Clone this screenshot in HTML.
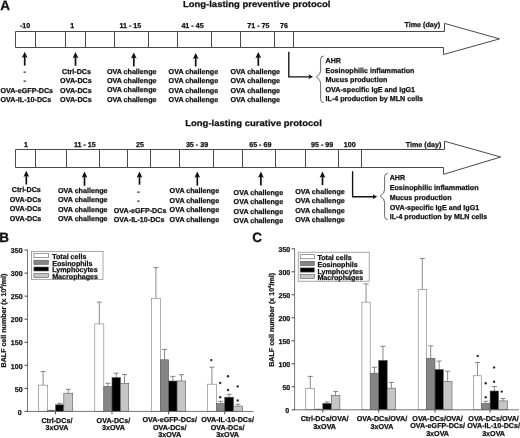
<!DOCTYPE html>
<html lang="en">
<head>
<meta charset="utf-8">
<title>Long-lasting preventive and curative protocols</title>
<style>
html,body{margin:0;padding:0;background:#fff;}
body{width:520px;height:438px;overflow:hidden;}
svg{display:block;will-change:transform;text-rendering:geometricPrecision;}
svg text{font-family:"Liberation Sans",Arial,Helvetica,sans-serif;font-weight:bold;fill:#111;stroke:#111;stroke-width:0.25px;stroke-linejoin:round;}
</style>
</head>
<body>
<svg width="520" height="438" viewBox="0 0 520 438">
<rect x="0" y="0" width="520" height="438" fill="#fff"/>
<text x="0.30" y="10.30" font-size="13.5" text-anchor="start">A</text>
<text x="182.90" y="7.10" font-size="8.7" text-anchor="start" textLength="147.6" lengthAdjust="spacingAndGlyphs">Long-lasting preventive protocol</text>
<polygon points="15.50,31.50 444.50,31.50 444.50,23.40 499.60,38.85 443.50,54.50 443.50,47.50 15.50,47.50" fill="#fff" stroke="#4a4a4a" stroke-width="1" stroke-linejoin="miter"/>
<line x1="35.50" y1="31.50" x2="35.50" y2="47.50" stroke="#4a4a4a" stroke-width="1"/>
<line x1="65.50" y1="31.50" x2="65.50" y2="47.50" stroke="#4a4a4a" stroke-width="1"/>
<line x1="85.50" y1="31.50" x2="85.50" y2="47.50" stroke="#4a4a4a" stroke-width="1"/>
<line x1="114.50" y1="31.50" x2="114.50" y2="47.50" stroke="#4a4a4a" stroke-width="1"/>
<line x1="148.50" y1="31.50" x2="148.50" y2="47.50" stroke="#4a4a4a" stroke-width="1"/>
<line x1="177.50" y1="31.50" x2="177.50" y2="47.50" stroke="#4a4a4a" stroke-width="1"/>
<line x1="211.50" y1="31.50" x2="211.50" y2="47.50" stroke="#4a4a4a" stroke-width="1"/>
<line x1="240.50" y1="31.50" x2="240.50" y2="47.50" stroke="#4a4a4a" stroke-width="1"/>
<line x1="274.50" y1="31.50" x2="274.50" y2="47.50" stroke="#4a4a4a" stroke-width="1"/>
<line x1="293.50" y1="31.50" x2="293.50" y2="47.50" stroke="#4a4a4a" stroke-width="1"/>
<text x="25.10" y="28.05" font-size="7.15" text-anchor="middle">-10</text>
<text x="72.20" y="28.05" font-size="7.15" text-anchor="middle">1</text>
<text x="130.30" y="28.05" font-size="7.15" text-anchor="middle">11 - 15</text>
<text x="192.50" y="28.05" font-size="7.15" text-anchor="middle">41 - 45</text>
<text x="258.40" y="28.05" font-size="7.15" text-anchor="middle">71 - 75</text>
<text x="284.10" y="28.05" font-size="7.15" text-anchor="middle">76</text>
<text x="404.50" y="27.30" font-size="7.15" text-anchor="start">Time (day)</text>
<line x1="24.70" y1="54.80" x2="24.70" y2="65.60" stroke="#111" stroke-width="1.7"/>
<path d="M24.70 51.80 L27.60 58.00 L24.70 56.60 L21.80 58.00 Z" fill="#111"/>
<line x1="75.50" y1="55.10" x2="75.50" y2="65.80" stroke="#111" stroke-width="1.7"/>
<path d="M75.50 52.10 L78.40 58.30 L75.50 56.90 L72.60 58.30 Z" fill="#111"/>
<line x1="133.80" y1="55.40" x2="133.80" y2="66.40" stroke="#111" stroke-width="1.7"/>
<path d="M133.80 52.40 L136.70 58.60 L133.80 57.20 L130.90 58.60 Z" fill="#111"/>
<line x1="195.70" y1="55.90" x2="195.70" y2="66.50" stroke="#111" stroke-width="1.7"/>
<path d="M195.70 52.90 L198.60 59.10 L195.70 57.70 L192.80 59.10 Z" fill="#111"/>
<line x1="258.30" y1="55.10" x2="258.30" y2="65.80" stroke="#111" stroke-width="1.7"/>
<path d="M258.30 52.10 L261.20 58.30 L258.30 56.90 L255.40 58.30 Z" fill="#111"/>
<text x="26.75" y="92.60" font-size="7.15" text-anchor="middle">OVA-eGFP-DCs</text>
<text x="25.85" y="101.80" font-size="7.15" text-anchor="middle">OVA-IL-10-DCs</text>
<text x="24.70" y="73.50" font-size="7.15" text-anchor="middle">-</text>
<text x="24.70" y="82.80" font-size="7.15" text-anchor="middle">-</text>
<text x="76.50" y="73.80" font-size="7.15" text-anchor="middle">Ctrl-DCs</text>
<text x="75.90" y="83.25" font-size="7.15" text-anchor="middle">OVA-DCs</text>
<text x="75.90" y="92.60" font-size="7.15" text-anchor="middle">OVA-DCs</text>
<text x="75.90" y="101.80" font-size="7.15" text-anchor="middle">OVA-DCs</text>
<text x="131.70" y="73.65" font-size="7.15" text-anchor="middle">OVA challenge</text>
<text x="131.70" y="83.00" font-size="7.15" text-anchor="middle">OVA challenge</text>
<text x="131.70" y="92.30" font-size="7.15" text-anchor="middle">OVA challenge</text>
<text x="131.70" y="101.80" font-size="7.15" text-anchor="middle">OVA challenge</text>
<text x="193.40" y="73.65" font-size="7.15" text-anchor="middle">OVA challenge</text>
<text x="193.40" y="83.00" font-size="7.15" text-anchor="middle">OVA challenge</text>
<text x="193.40" y="92.60" font-size="7.15" text-anchor="middle">OVA challenge</text>
<text x="193.40" y="101.80" font-size="7.15" text-anchor="middle">OVA challenge</text>
<text x="255.30" y="74.10" font-size="7.15" text-anchor="middle">OVA challenge</text>
<text x="255.30" y="83.40" font-size="7.15" text-anchor="middle">OVA challenge</text>
<text x="255.30" y="92.90" font-size="7.15" text-anchor="middle">OVA challenge</text>
<text x="255.30" y="102.20" font-size="7.15" text-anchor="middle">OVA challenge</text>
<path d="M288.80 51.80 V76.80 H310.50" fill="none" stroke="#111" stroke-width="1.35"/>
<path d="M313.00 76.80 L308.40 74.30 L309.50 76.80 L308.40 79.30 Z" fill="#111"/>
<path d="M323.80 56.00 Q320.65 56.00 320.65 59.00 V70.80 Q320.65 74.40 316.30 77.00 Q320.65 79.60 320.65 83.20 V99.60 Q320.65 102.60 323.80 102.60" fill="none" stroke="#4a4a4a" stroke-width="0.85"/>
<text x="325.50" y="63.20" font-size="7.15" text-anchor="start">AHR</text>
<text x="325.50" y="72.70" font-size="7.15" text-anchor="start">Eosinophilic inflammation</text>
<text x="325.50" y="82.40" font-size="7.15" text-anchor="start">Mucus production</text>
<text x="325.50" y="91.90" font-size="7.15" text-anchor="start">OVA-specific IgE and IgG1</text>
<text x="325.50" y="101.40" font-size="7.15" text-anchor="start">IL-4 production by MLN cells</text>
<text x="185.20" y="126.40" font-size="8.7" text-anchor="start" textLength="136.6" lengthAdjust="spacingAndGlyphs">Long-lasting curative protocol</text>
<polygon points="15.50,149.50 444.50,149.50 444.50,141.25 500.75,157.00 443.50,174.25 443.50,167.50 15.50,167.50" fill="#fff" stroke="#4a4a4a" stroke-width="1" stroke-linejoin="miter"/>
<line x1="35.50" y1="149.50" x2="35.50" y2="167.50" stroke="#4a4a4a" stroke-width="1"/>
<line x1="66.50" y1="149.50" x2="66.50" y2="167.50" stroke="#4a4a4a" stroke-width="1"/>
<line x1="99.50" y1="149.50" x2="99.50" y2="167.50" stroke="#4a4a4a" stroke-width="1"/>
<line x1="127.50" y1="149.50" x2="127.50" y2="167.50" stroke="#4a4a4a" stroke-width="1"/>
<line x1="150.50" y1="149.50" x2="150.50" y2="167.50" stroke="#4a4a4a" stroke-width="1"/>
<line x1="179.50" y1="149.50" x2="179.50" y2="167.50" stroke="#4a4a4a" stroke-width="1"/>
<line x1="213.50" y1="149.50" x2="213.50" y2="167.50" stroke="#4a4a4a" stroke-width="1"/>
<line x1="242.50" y1="149.50" x2="242.50" y2="167.50" stroke="#4a4a4a" stroke-width="1"/>
<line x1="275.50" y1="149.50" x2="275.50" y2="167.50" stroke="#4a4a4a" stroke-width="1"/>
<line x1="305.50" y1="149.50" x2="305.50" y2="167.50" stroke="#4a4a4a" stroke-width="1"/>
<line x1="338.50" y1="149.50" x2="338.50" y2="167.50" stroke="#4a4a4a" stroke-width="1"/>
<line x1="361.50" y1="149.50" x2="361.50" y2="167.50" stroke="#4a4a4a" stroke-width="1"/>
<text x="25.90" y="146.70" font-size="7.15" text-anchor="middle">1</text>
<text x="84.80" y="146.70" font-size="7.15" text-anchor="middle">11 - 15</text>
<text x="140.00" y="146.70" font-size="7.15" text-anchor="middle">25</text>
<text x="197.00" y="146.70" font-size="7.15" text-anchor="middle">35 - 39</text>
<text x="260.30" y="146.70" font-size="7.15" text-anchor="middle">65 - 69</text>
<text x="322.10" y="146.70" font-size="7.15" text-anchor="middle">95 - 99</text>
<text x="349.75" y="146.70" font-size="7.15" text-anchor="middle">100</text>
<text x="405.75" y="146.70" font-size="7.15" text-anchor="start">Time (day)</text>
<line x1="26.30" y1="173.70" x2="26.30" y2="184.50" stroke="#111" stroke-width="1.7"/>
<path d="M26.30 170.70 L29.20 176.90 L26.30 175.50 L23.40 176.90 Z" fill="#111"/>
<line x1="84.50" y1="174.60" x2="84.50" y2="185.80" stroke="#111" stroke-width="1.7"/>
<path d="M84.50 171.60 L87.40 177.80 L84.50 176.40 L81.60 177.80 Z" fill="#111"/>
<line x1="139.50" y1="174.60" x2="139.50" y2="184.70" stroke="#111" stroke-width="1.7"/>
<path d="M139.50 171.60 L142.40 177.80 L139.50 176.40 L136.60 177.80 Z" fill="#111"/>
<line x1="197.30" y1="174.60" x2="197.30" y2="185.60" stroke="#111" stroke-width="1.7"/>
<path d="M197.30 171.60 L200.20 177.80 L197.30 176.40 L194.40 177.80 Z" fill="#111"/>
<line x1="260.90" y1="174.60" x2="260.90" y2="185.60" stroke="#111" stroke-width="1.7"/>
<path d="M260.90 171.60 L263.80 177.80 L260.90 176.40 L258.00 177.80 Z" fill="#111"/>
<line x1="322.50" y1="174.60" x2="322.50" y2="185.10" stroke="#111" stroke-width="1.7"/>
<path d="M322.50 171.60 L325.40 177.80 L322.50 176.40 L319.60 177.80 Z" fill="#111"/>
<text x="26.30" y="192.40" font-size="7.15" text-anchor="middle">Ctrl-DCs</text>
<text x="25.55" y="201.90" font-size="7.15" text-anchor="middle">OVA-DCs</text>
<text x="25.55" y="211.20" font-size="7.15" text-anchor="middle">OVA-DCs</text>
<text x="25.55" y="220.80" font-size="7.15" text-anchor="middle">OVA-DCs</text>
<text x="82.80" y="192.70" font-size="7.15" text-anchor="middle">OVA challenge</text>
<text x="82.80" y="202.00" font-size="7.15" text-anchor="middle">OVA challenge</text>
<text x="82.80" y="211.50" font-size="7.15" text-anchor="middle">OVA challenge</text>
<text x="82.80" y="220.80" font-size="7.15" text-anchor="middle">OVA challenge</text>
<text x="140.05" y="212.60" font-size="7.15" text-anchor="middle">OVA-eGFP-DCs</text>
<text x="139.15" y="221.80" font-size="7.15" text-anchor="middle">OVA-IL-10-DCs</text>
<text x="138.50" y="193.90" font-size="7.15" text-anchor="middle">-</text>
<text x="138.50" y="202.80" font-size="7.15" text-anchor="middle">-</text>
<text x="194.40" y="193.10" font-size="7.15" text-anchor="middle">OVA challenge</text>
<text x="194.40" y="202.60" font-size="7.15" text-anchor="middle">OVA challenge</text>
<text x="194.40" y="211.90" font-size="7.15" text-anchor="middle">OVA challenge</text>
<text x="194.40" y="221.50" font-size="7.15" text-anchor="middle">OVA challenge</text>
<text x="258.40" y="195.00" font-size="7.15" text-anchor="middle">OVA challenge</text>
<text x="258.40" y="203.90" font-size="7.15" text-anchor="middle">OVA challenge</text>
<text x="258.40" y="213.50" font-size="7.15" text-anchor="middle">OVA challenge</text>
<text x="258.40" y="222.90" font-size="7.15" text-anchor="middle">OVA challenge</text>
<text x="320.00" y="193.80" font-size="7.15" text-anchor="middle">OVA challenge</text>
<text x="320.00" y="203.25" font-size="7.15" text-anchor="middle">OVA challenge</text>
<text x="320.00" y="212.60" font-size="7.15" text-anchor="middle">OVA challenge</text>
<text x="320.00" y="221.90" font-size="7.15" text-anchor="middle">OVA challenge</text>
<path d="M352.60 171.20 V196.70 H374.70" fill="none" stroke="#111" stroke-width="1.35"/>
<path d="M377.20 196.70 L372.60 194.20 L373.70 196.70 L372.60 199.20 Z" fill="#111"/>
<path d="M387.80 173.50 Q384.61 173.50 384.61 176.50 V189.80 Q384.61 193.40 380.20 196.00 Q384.61 198.60 384.61 202.20 V216.50 Q384.61 219.50 387.80 219.50" fill="none" stroke="#4a4a4a" stroke-width="0.85"/>
<text x="389.70" y="180.40" font-size="7.15" text-anchor="start">AHR</text>
<text x="389.70" y="190.20" font-size="7.15" text-anchor="start">Eosinophilic inflammation</text>
<text x="389.70" y="200.00" font-size="7.15" text-anchor="start">Mucus production</text>
<text x="389.70" y="209.70" font-size="7.15" text-anchor="start">OVA-specific IgE and IgG1</text>
<text x="389.70" y="219.30" font-size="7.15" text-anchor="start">IL-4 production by MLN cells</text>
<text x="-0.80" y="241.60" font-size="13.5" text-anchor="start">B</text>
<line x1="43.10" y1="371.52" x2="43.10" y2="385.12" stroke="#6a6a6a" stroke-width="0.8"/>
<line x1="40.60" y1="371.52" x2="45.60" y2="371.52" stroke="#6a6a6a" stroke-width="0.8"/>
<rect x="38.50" y="385.12" width="9.20" height="26.28" fill="#ffffff" stroke="#7a7a7a" stroke-width="0.6"/>
<line x1="51.60" y1="410.25" x2="51.60" y2="410.48" stroke="#6a6a6a" stroke-width="0.8"/>
<line x1="49.10" y1="410.25" x2="54.10" y2="410.25" stroke="#6a6a6a" stroke-width="0.8"/>
<rect x="47.70" y="410.48" width="7.80" height="0.92" fill="#858585" stroke="#5a5a5a" stroke-width="0.6"/>
<line x1="59.65" y1="403.33" x2="59.65" y2="404.81" stroke="#6a6a6a" stroke-width="0.8"/>
<line x1="57.15" y1="403.33" x2="62.15" y2="403.33" stroke="#6a6a6a" stroke-width="0.8"/>
<rect x="55.50" y="404.81" width="8.30" height="6.59" fill="#000000" stroke="#5a5a5a" stroke-width="0.6"/>
<line x1="68.25" y1="389.27" x2="68.25" y2="393.19" stroke="#6a6a6a" stroke-width="0.8"/>
<line x1="65.75" y1="389.27" x2="70.75" y2="389.27" stroke="#6a6a6a" stroke-width="0.8"/>
<rect x="63.80" y="393.19" width="8.90" height="18.21" fill="#c6c6c6" stroke="#5a5a5a" stroke-width="0.6"/>
<line x1="55.50" y1="411.40" x2="55.50" y2="414.20" stroke="#333" stroke-width="0.9"/>
<line x1="99.30" y1="302.14" x2="99.30" y2="323.90" stroke="#6a6a6a" stroke-width="0.8"/>
<line x1="96.80" y1="302.14" x2="101.80" y2="302.14" stroke="#6a6a6a" stroke-width="0.8"/>
<rect x="94.80" y="323.90" width="9.00" height="87.50" fill="#ffffff" stroke="#7a7a7a" stroke-width="0.6"/>
<line x1="107.90" y1="383.28" x2="107.90" y2="386.32" stroke="#6a6a6a" stroke-width="0.8"/>
<line x1="105.40" y1="383.28" x2="110.40" y2="383.28" stroke="#6a6a6a" stroke-width="0.8"/>
<rect x="103.80" y="386.32" width="8.20" height="25.08" fill="#858585" stroke="#5a5a5a" stroke-width="0.6"/>
<line x1="116.25" y1="373.14" x2="116.25" y2="377.56" stroke="#6a6a6a" stroke-width="0.8"/>
<line x1="113.75" y1="373.14" x2="118.75" y2="373.14" stroke="#6a6a6a" stroke-width="0.8"/>
<rect x="112.00" y="377.56" width="8.50" height="33.84" fill="#000000" stroke="#5a5a5a" stroke-width="0.6"/>
<line x1="124.60" y1="374.52" x2="124.60" y2="383.28" stroke="#6a6a6a" stroke-width="0.8"/>
<line x1="122.10" y1="374.52" x2="127.10" y2="374.52" stroke="#6a6a6a" stroke-width="0.8"/>
<rect x="120.50" y="383.28" width="8.20" height="28.12" fill="#c6c6c6" stroke="#5a5a5a" stroke-width="0.6"/>
<line x1="112.00" y1="411.40" x2="112.00" y2="414.20" stroke="#333" stroke-width="0.9"/>
<line x1="155.90" y1="267.57" x2="155.90" y2="298.45" stroke="#6a6a6a" stroke-width="0.8"/>
<line x1="153.40" y1="267.57" x2="158.40" y2="267.57" stroke="#6a6a6a" stroke-width="0.8"/>
<rect x="151.50" y="298.45" width="8.80" height="112.94" fill="#ffffff" stroke="#7a7a7a" stroke-width="0.6"/>
<line x1="164.45" y1="349.40" x2="164.45" y2="359.77" stroke="#6a6a6a" stroke-width="0.8"/>
<line x1="161.95" y1="349.40" x2="166.95" y2="349.40" stroke="#6a6a6a" stroke-width="0.8"/>
<rect x="160.30" y="359.77" width="8.30" height="51.63" fill="#858585" stroke="#5a5a5a" stroke-width="0.6"/>
<line x1="172.85" y1="376.36" x2="172.85" y2="381.02" stroke="#6a6a6a" stroke-width="0.8"/>
<line x1="170.35" y1="376.36" x2="175.35" y2="376.36" stroke="#6a6a6a" stroke-width="0.8"/>
<rect x="168.60" y="381.02" width="8.50" height="30.38" fill="#000000" stroke="#5a5a5a" stroke-width="0.6"/>
<line x1="181.40" y1="374.70" x2="181.40" y2="380.97" stroke="#6a6a6a" stroke-width="0.8"/>
<line x1="178.90" y1="374.70" x2="183.90" y2="374.70" stroke="#6a6a6a" stroke-width="0.8"/>
<rect x="177.10" y="380.97" width="8.60" height="30.43" fill="#c6c6c6" stroke="#5a5a5a" stroke-width="0.6"/>
<line x1="168.60" y1="411.40" x2="168.60" y2="414.20" stroke="#333" stroke-width="0.9"/>
<line x1="211.90" y1="367.14" x2="211.90" y2="384.20" stroke="#6a6a6a" stroke-width="0.8"/>
<line x1="209.40" y1="367.14" x2="214.40" y2="367.14" stroke="#6a6a6a" stroke-width="0.8"/>
<rect x="207.30" y="384.20" width="9.20" height="27.20" fill="#ffffff" stroke="#7a7a7a" stroke-width="0.6"/>
<line x1="220.60" y1="401.26" x2="220.60" y2="403.42" stroke="#6a6a6a" stroke-width="0.8"/>
<line x1="218.10" y1="401.26" x2="223.10" y2="401.26" stroke="#6a6a6a" stroke-width="0.8"/>
<rect x="216.50" y="403.42" width="8.20" height="7.98" fill="#858585" stroke="#5a5a5a" stroke-width="0.6"/>
<line x1="229.15" y1="394.34" x2="229.15" y2="397.20" stroke="#6a6a6a" stroke-width="0.8"/>
<line x1="226.65" y1="394.34" x2="231.65" y2="394.34" stroke="#6a6a6a" stroke-width="0.8"/>
<rect x="224.70" y="397.20" width="8.90" height="14.20" fill="#000000" stroke="#5a5a5a" stroke-width="0.6"/>
<line x1="238.05" y1="404.21" x2="238.05" y2="406.10" stroke="#6a6a6a" stroke-width="0.8"/>
<line x1="235.55" y1="404.21" x2="240.55" y2="404.21" stroke="#6a6a6a" stroke-width="0.8"/>
<rect x="233.60" y="406.10" width="8.90" height="5.30" fill="#c6c6c6" stroke="#5a5a5a" stroke-width="0.6"/>
<line x1="224.70" y1="411.40" x2="224.70" y2="414.20" stroke="#333" stroke-width="0.9"/>
<line x1="27.50" y1="249.65" x2="27.50" y2="411.80" stroke="#666" stroke-width="0.9"/>
<line x1="27.10" y1="411.40" x2="253.60" y2="411.40" stroke="#666" stroke-width="0.9"/>
<line x1="24.50" y1="411.40" x2="27.50" y2="411.40" stroke="#333" stroke-width="0.9"/>
<text x="21.60" y="414.60" font-size="7.1" text-anchor="end">0</text>
<line x1="24.50" y1="388.35" x2="27.50" y2="388.35" stroke="#333" stroke-width="0.9"/>
<text x="22.60" y="391.55" font-size="7.1" text-anchor="end">50</text>
<line x1="24.50" y1="365.30" x2="27.50" y2="365.30" stroke="#333" stroke-width="0.9"/>
<text x="22.60" y="368.50" font-size="7.1" text-anchor="end">100</text>
<line x1="24.50" y1="342.25" x2="27.50" y2="342.25" stroke="#333" stroke-width="0.9"/>
<text x="22.60" y="345.45" font-size="7.1" text-anchor="end">150</text>
<line x1="24.50" y1="319.20" x2="27.50" y2="319.20" stroke="#333" stroke-width="0.9"/>
<text x="22.60" y="322.40" font-size="7.1" text-anchor="end">200</text>
<line x1="24.50" y1="296.15" x2="27.50" y2="296.15" stroke="#333" stroke-width="0.9"/>
<text x="22.60" y="299.35" font-size="7.1" text-anchor="end">250</text>
<line x1="24.50" y1="273.10" x2="27.50" y2="273.10" stroke="#333" stroke-width="0.9"/>
<text x="22.60" y="276.30" font-size="7.1" text-anchor="end">300</text>
<line x1="24.50" y1="250.05" x2="27.50" y2="250.05" stroke="#333" stroke-width="0.9"/>
<text x="22.60" y="253.25" font-size="7.1" text-anchor="end">350</text>
<rect x="31.40" y="251.30" width="71.60" height="28.00" fill="#fff" stroke="#808080" stroke-width="0.7"/>
<rect x="33.90" y="253.60" width="14.50" height="4.10" fill="#ffffff" stroke="#5a5a5a" stroke-width="0.6"/>
<text x="52.20" y="258.80" font-size="7.12" text-anchor="start">Total cells</text>
<rect x="33.90" y="260.20" width="14.50" height="4.20" fill="#858585" stroke="#5a5a5a" stroke-width="0.6"/>
<text x="52.20" y="265.50" font-size="7.12" text-anchor="start">Eosinophils</text>
<rect x="33.90" y="267.00" width="14.50" height="4.00" fill="#000000" stroke="#5a5a5a" stroke-width="0.6"/>
<text x="52.20" y="272.10" font-size="7.12" text-anchor="start">Lymphocytes</text>
<rect x="33.90" y="273.40" width="14.50" height="4.20" fill="#c6c6c6" stroke="#5a5a5a" stroke-width="0.6"/>
<text x="52.20" y="278.80" font-size="7.12" text-anchor="start">Macrophages</text>
<text transform="translate(5.80 320.50) rotate(-90)" font-size="7.1" text-anchor="middle">BALF cell number (x 10<tspan font-size="4.4" dy="-2.6">4</tspan><tspan dy="2.6">/ml)</tspan></text>
<text x="56.90" y="422.70" font-size="7.15" text-anchor="middle">Ctrl-DCs/</text>
<text x="56.90" y="430.20" font-size="7.15" text-anchor="middle">3xOVA</text>
<text x="113.40" y="422.70" font-size="7.15" text-anchor="middle">OVA-DCs/</text>
<text x="113.40" y="430.20" font-size="7.15" text-anchor="middle">3xOVA</text>
<text x="169.70" y="422.40" font-size="7.15" text-anchor="middle">OVA-eGFP-DCs/</text>
<text x="169.70" y="429.90" font-size="7.15" text-anchor="middle">OVA-DCs/</text>
<text x="169.70" y="437.30" font-size="7.15" text-anchor="middle">3xOVA</text>
<text x="227.60" y="422.40" font-size="7.15" text-anchor="middle">OVA-IL-10-DCs/</text>
<text x="227.60" y="429.90" font-size="7.15" text-anchor="middle">OVA-DCs/</text>
<text x="227.60" y="437.30" font-size="7.15" text-anchor="middle">3xOVA</text>
<circle cx="211.30" cy="360.10" r="1.2" fill="#303030"/>
<circle cx="220.20" cy="383.00" r="1.2" fill="#303030"/>
<circle cx="220.20" cy="397.20" r="1.2" fill="#303030"/>
<circle cx="228.10" cy="376.30" r="1.2" fill="#303030"/>
<circle cx="228.10" cy="390.00" r="1.2" fill="#303030"/>
<circle cx="237.70" cy="386.40" r="1.2" fill="#303030"/>
<circle cx="237.70" cy="400.50" r="1.2" fill="#303030"/>
<text x="252.30" y="241.60" font-size="13.5" text-anchor="start">C</text>
<line x1="310.25" y1="376.40" x2="310.25" y2="388.32" stroke="#6a6a6a" stroke-width="0.8"/>
<line x1="307.75" y1="376.40" x2="312.75" y2="376.40" stroke="#6a6a6a" stroke-width="0.8"/>
<rect x="305.80" y="388.32" width="8.90" height="21.48" fill="#ffffff" stroke="#7a7a7a" stroke-width="0.6"/>
<line x1="318.75" y1="409.20" x2="318.75" y2="409.34" stroke="#6a6a6a" stroke-width="0.8"/>
<line x1="316.25" y1="409.20" x2="321.25" y2="409.20" stroke="#6a6a6a" stroke-width="0.8"/>
<rect x="314.70" y="409.34" width="8.10" height="0.46" fill="#858585" stroke="#5a5a5a" stroke-width="0.6"/>
<line x1="327.05" y1="401.98" x2="327.05" y2="403.41" stroke="#6a6a6a" stroke-width="0.8"/>
<line x1="324.55" y1="401.98" x2="329.55" y2="401.98" stroke="#6a6a6a" stroke-width="0.8"/>
<rect x="322.80" y="403.41" width="8.50" height="6.39" fill="#000000" stroke="#5a5a5a" stroke-width="0.6"/>
<line x1="335.60" y1="391.40" x2="335.60" y2="395.31" stroke="#6a6a6a" stroke-width="0.8"/>
<line x1="333.10" y1="391.40" x2="338.10" y2="391.40" stroke="#6a6a6a" stroke-width="0.8"/>
<rect x="331.30" y="395.31" width="8.60" height="14.49" fill="#c6c6c6" stroke="#5a5a5a" stroke-width="0.6"/>
<line x1="322.80" y1="409.80" x2="322.80" y2="412.60" stroke="#333" stroke-width="0.9"/>
<line x1="366.05" y1="283.90" x2="366.05" y2="302.16" stroke="#6a6a6a" stroke-width="0.8"/>
<line x1="363.55" y1="283.90" x2="368.55" y2="283.90" stroke="#6a6a6a" stroke-width="0.8"/>
<rect x="361.90" y="302.16" width="8.30" height="107.64" fill="#ffffff" stroke="#7a7a7a" stroke-width="0.6"/>
<line x1="374.45" y1="367.25" x2="374.45" y2="373.23" stroke="#6a6a6a" stroke-width="0.8"/>
<line x1="371.95" y1="367.25" x2="376.95" y2="367.25" stroke="#6a6a6a" stroke-width="0.8"/>
<rect x="370.20" y="373.23" width="8.50" height="36.57" fill="#858585" stroke="#5a5a5a" stroke-width="0.6"/>
<line x1="382.95" y1="346.32" x2="382.95" y2="360.35" stroke="#6a6a6a" stroke-width="0.8"/>
<line x1="380.45" y1="346.32" x2="385.45" y2="346.32" stroke="#6a6a6a" stroke-width="0.8"/>
<rect x="378.70" y="360.35" width="8.50" height="49.45" fill="#000000" stroke="#5a5a5a" stroke-width="0.6"/>
<line x1="391.40" y1="382.43" x2="391.40" y2="388.18" stroke="#6a6a6a" stroke-width="0.8"/>
<line x1="388.90" y1="382.43" x2="393.90" y2="382.43" stroke="#6a6a6a" stroke-width="0.8"/>
<rect x="387.20" y="388.18" width="8.40" height="21.62" fill="#c6c6c6" stroke="#5a5a5a" stroke-width="0.6"/>
<line x1="378.70" y1="409.80" x2="378.70" y2="412.60" stroke="#333" stroke-width="0.9"/>
<line x1="422.30" y1="258.46" x2="422.30" y2="289.51" stroke="#6a6a6a" stroke-width="0.8"/>
<line x1="419.80" y1="258.46" x2="424.80" y2="258.46" stroke="#6a6a6a" stroke-width="0.8"/>
<rect x="418.20" y="289.51" width="8.20" height="120.29" fill="#ffffff" stroke="#7a7a7a" stroke-width="0.6"/>
<line x1="430.70" y1="345.86" x2="430.70" y2="358.28" stroke="#6a6a6a" stroke-width="0.8"/>
<line x1="428.20" y1="345.86" x2="433.20" y2="345.86" stroke="#6a6a6a" stroke-width="0.8"/>
<rect x="426.40" y="358.28" width="8.60" height="51.52" fill="#858585" stroke="#5a5a5a" stroke-width="0.6"/>
<line x1="439.15" y1="361.04" x2="439.15" y2="369.50" stroke="#6a6a6a" stroke-width="0.8"/>
<line x1="436.65" y1="361.04" x2="441.65" y2="361.04" stroke="#6a6a6a" stroke-width="0.8"/>
<rect x="435.00" y="369.50" width="8.30" height="40.30" fill="#000000" stroke="#5a5a5a" stroke-width="0.6"/>
<line x1="447.65" y1="371.16" x2="447.65" y2="381.60" stroke="#6a6a6a" stroke-width="0.8"/>
<line x1="445.15" y1="371.16" x2="450.15" y2="371.16" stroke="#6a6a6a" stroke-width="0.8"/>
<rect x="443.30" y="381.60" width="8.70" height="28.20" fill="#c6c6c6" stroke="#5a5a5a" stroke-width="0.6"/>
<line x1="435.00" y1="409.80" x2="435.00" y2="412.60" stroke="#333" stroke-width="0.9"/>
<line x1="477.55" y1="362.42" x2="477.55" y2="375.76" stroke="#6a6a6a" stroke-width="0.8"/>
<line x1="475.05" y1="362.42" x2="480.05" y2="362.42" stroke="#6a6a6a" stroke-width="0.8"/>
<rect x="473.40" y="375.76" width="8.30" height="34.04" fill="#ffffff" stroke="#7a7a7a" stroke-width="0.6"/>
<line x1="485.90" y1="401.24" x2="485.90" y2="403.36" stroke="#6a6a6a" stroke-width="0.8"/>
<line x1="483.40" y1="401.24" x2="488.40" y2="401.24" stroke="#6a6a6a" stroke-width="0.8"/>
<rect x="481.70" y="403.36" width="8.40" height="6.44" fill="#858585" stroke="#5a5a5a" stroke-width="0.6"/>
<line x1="494.35" y1="386.52" x2="494.35" y2="390.99" stroke="#6a6a6a" stroke-width="0.8"/>
<line x1="491.85" y1="386.52" x2="496.85" y2="386.52" stroke="#6a6a6a" stroke-width="0.8"/>
<rect x="490.10" y="390.99" width="8.50" height="18.81" fill="#000000" stroke="#5a5a5a" stroke-width="0.6"/>
<line x1="503.00" y1="398.53" x2="503.00" y2="400.92" stroke="#6a6a6a" stroke-width="0.8"/>
<line x1="500.50" y1="398.53" x2="505.50" y2="398.53" stroke="#6a6a6a" stroke-width="0.8"/>
<rect x="498.60" y="400.92" width="8.80" height="8.88" fill="#c6c6c6" stroke="#5a5a5a" stroke-width="0.6"/>
<line x1="490.10" y1="409.80" x2="490.10" y2="412.60" stroke="#333" stroke-width="0.9"/>
<line x1="294.60" y1="248.40" x2="294.60" y2="410.20" stroke="#666" stroke-width="0.9"/>
<line x1="294.20" y1="409.80" x2="519.00" y2="409.80" stroke="#666" stroke-width="0.9"/>
<line x1="291.60" y1="409.80" x2="294.60" y2="409.80" stroke="#333" stroke-width="0.9"/>
<text x="289.30" y="413.00" font-size="7.1" text-anchor="end">0</text>
<line x1="291.60" y1="386.80" x2="294.60" y2="386.80" stroke="#333" stroke-width="0.9"/>
<text x="290.30" y="390.00" font-size="7.1" text-anchor="end">50</text>
<line x1="291.60" y1="363.80" x2="294.60" y2="363.80" stroke="#333" stroke-width="0.9"/>
<text x="290.30" y="367.00" font-size="7.1" text-anchor="end">100</text>
<line x1="291.60" y1="340.80" x2="294.60" y2="340.80" stroke="#333" stroke-width="0.9"/>
<text x="290.30" y="344.00" font-size="7.1" text-anchor="end">150</text>
<line x1="291.60" y1="317.80" x2="294.60" y2="317.80" stroke="#333" stroke-width="0.9"/>
<text x="290.30" y="321.00" font-size="7.1" text-anchor="end">200</text>
<line x1="291.60" y1="294.80" x2="294.60" y2="294.80" stroke="#333" stroke-width="0.9"/>
<text x="290.30" y="298.00" font-size="7.1" text-anchor="end">250</text>
<line x1="291.60" y1="271.80" x2="294.60" y2="271.80" stroke="#333" stroke-width="0.9"/>
<text x="290.30" y="275.00" font-size="7.1" text-anchor="end">300</text>
<line x1="291.60" y1="248.80" x2="294.60" y2="248.80" stroke="#333" stroke-width="0.9"/>
<text x="290.30" y="252.00" font-size="7.1" text-anchor="end">350</text>
<rect x="298.20" y="252.20" width="71.00" height="29.00" fill="#fff" stroke="#808080" stroke-width="0.7"/>
<rect x="300.20" y="254.70" width="14.10" height="4.10" fill="#ffffff" stroke="#5a5a5a" stroke-width="0.6"/>
<text x="317.40" y="260.00" font-size="7.12" text-anchor="start">Total cells</text>
<rect x="300.20" y="261.30" width="14.10" height="4.30" fill="#858585" stroke="#5a5a5a" stroke-width="0.6"/>
<text x="317.40" y="266.80" font-size="7.12" text-anchor="start">Eosinophils</text>
<rect x="300.20" y="267.90" width="14.10" height="4.20" fill="#000000" stroke="#5a5a5a" stroke-width="0.6"/>
<text x="317.40" y="273.70" font-size="7.12" text-anchor="start">Lymphocytes</text>
<rect x="300.20" y="274.50" width="14.10" height="4.00" fill="#c6c6c6" stroke="#5a5a5a" stroke-width="0.6"/>
<text x="317.40" y="280.10" font-size="7.12" text-anchor="start">Macrophages</text>
<text transform="translate(274.00 319.80) rotate(-90)" font-size="7.1" text-anchor="middle">BALF cell number (x 10<tspan font-size="4.4" dy="-2.6">4</tspan><tspan dy="2.6">/ml)</tspan></text>
<text x="324.60" y="420.80" font-size="7.15" text-anchor="middle">Ctrl-DCs/OVA/</text>
<text x="324.60" y="428.60" font-size="7.15" text-anchor="middle">3xOVA</text>
<text x="381.90" y="420.80" font-size="7.15" text-anchor="middle">OVA-DCs/OVA/</text>
<text x="381.90" y="428.60" font-size="7.15" text-anchor="middle">3xOVA</text>
<text x="437.60" y="420.50" font-size="7.15" text-anchor="middle">OVA-DCs/OVA/</text>
<text x="437.60" y="427.80" font-size="7.15" text-anchor="middle">OVA-eGFP-DCs/</text>
<text x="437.60" y="435.80" font-size="7.15" text-anchor="middle">3xOVA</text>
<text x="493.60" y="420.50" font-size="7.15" text-anchor="middle">OVA-DCs/OVA/</text>
<text x="493.60" y="427.80" font-size="7.15" text-anchor="middle">OVA-IL-10-DCs/</text>
<text x="493.60" y="435.80" font-size="7.15" text-anchor="middle">3xOVA</text>
<circle cx="477.70" cy="355.90" r="1.2" fill="#303030"/>
<circle cx="485.70" cy="383.30" r="1.2" fill="#303030"/>
<circle cx="485.70" cy="397.20" r="1.2" fill="#303030"/>
<circle cx="494.10" cy="367.40" r="1.2" fill="#303030"/>
<circle cx="494.10" cy="381.70" r="1.2" fill="#303030"/>
<circle cx="501.80" cy="391.60" r="1.2" fill="#303030"/>
</svg>
</body>
</html>
